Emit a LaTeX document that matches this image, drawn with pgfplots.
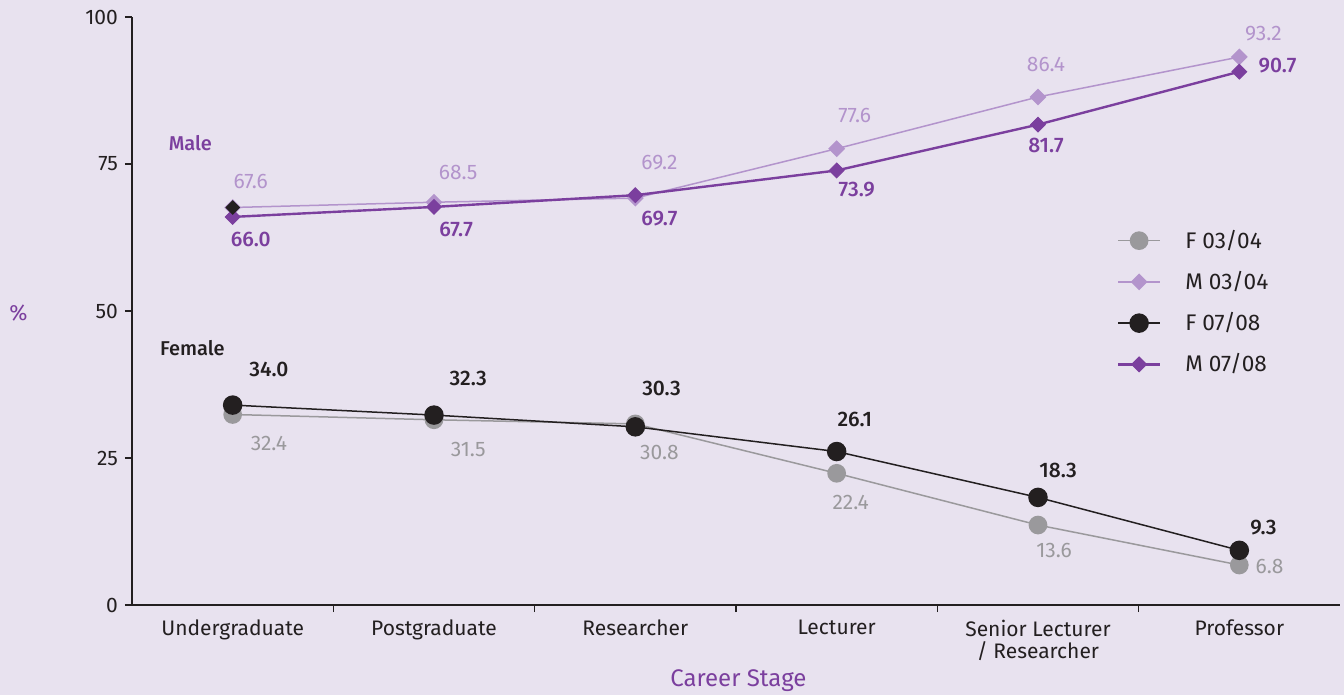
\documentclass[border=0pt]{standalone}
\usepackage{fontspec}
\setmainfont{Fira Sans}
\newfontfamily\firamed{Fira Sans Medium}
\usepackage{pgfplots}
\pgfplotsset{compat=1.18}
\definecolor{bg}{HTML}{E8E2EF}
\definecolor{axc}{HTML}{231F20}
\definecolor{fgray}{HTML}{9A999C}
\definecolor{lpurp}{HTML}{B394CC}
\definecolor{dpurp}{HTML}{7B3F9E}
\definecolor{fblack}{HTML}{231F20}
\begin{document}
\begin{tikzpicture}
\fill[bg] (-66pt,-45pt) rectangle (606pt,302.5pt);
\begin{axis}[
  at={(0,0)}, anchor=south west,
  scale only axis, width=604pt, height=294pt,
  xmin=-0.5, xmax=5.5, ymin=0, ymax=100,
  axis lines*=left,
  axis line style={draw=axc, line width=0.75pt},
  tick style={draw=axc, line width=0.75pt},
  tick align=outside, major tick length=3.5pt,
  ytick={0,25,50,75,100},
  xtick={0.5,1.5,2.5,3.5,4.5},
  xticklabels={},
  extra x ticks={0,1,2,3,4,5},
  extra x tick labels={Undergraduate,Postgraduate,Researcher,Lecturer,{Senior Lecturer\\/ Researcher},Professor},
  extra x tick style={major tick length=0pt, xticklabel style={align=center, yshift=-4pt}},
  ticklabel style={font=\fontsize{10.5}{11}\selectfont, text=axc},
  /pgf/number format/assume math mode=true,
  legend style={draw=none, fill=none, at={(0.81,0.652)}, anchor=north west,
    font=\fontsize{11.3}{12}\selectfont, text=axc, row sep=6.0pt,
    /tikz/every odd column/.append style={column sep=10pt}},
  legend cell align=left,
  legend image code/.code={\draw[mark repeat=2,mark phase=2] plot coordinates {(0cm,0cm)(0.37cm,0cm)(0.74cm,0cm)};},
  clip=false,
]
% F 03/04
\addplot[color=fgray, line width=0.75pt, mark=*, mark size=4.3pt, mark options={fill=fgray, draw=fgray}]
  coordinates {(0,32.4) (1,31.5) (2,30.8) (3,22.4) (4,13.6) (5,6.8)};
\addlegendentry{F 03/04}
% M 03/04
\addplot[color=lpurp, line width=0.75pt, mark=square*, mark size=2.6pt, mark options={rotate=45, fill=lpurp, draw=lpurp}]
  coordinates {(0,67.6) (1,68.5) (2,69.2) (3,77.6) (4,86.4) (5,93.2)};
\addlegendentry{M 03/04}
% F 07/08
\addplot[color=fblack, line width=0.75pt, mark=*, mark size=4.5pt, mark options={fill=fblack, draw=fblack}]
  coordinates {(0,34.0) (1,32.3) (2,30.3) (3,26.1) (4,18.3) (5,9.3)};
\addlegendentry{F 07/08}
% M 07/08
\addplot[color=dpurp, line width=1.2pt, mark=square*, mark size=2.6pt, mark options={rotate=45, fill=dpurp, draw=dpurp, line width=0.5pt}]
  coordinates {(0,66.0) (1,67.7) (2,69.7) (3,73.9) (4,81.7) (5,90.7)};
\addlegendentry{M 07/08}
% black first marker of M 03/04
\addplot[forget plot, draw=none, mark=square*, mark size=2.4pt, mark options={rotate=45, fill=fblack, draw=fblack}]
  coordinates {(0,67.6)};

\begin{scope}[every node/.style={font=\fontsize{10.5}{12}\selectfont}]
% M 03/04 labels
\node[text=lpurp] at (axis cs:0.09,72.1) {67.6};
\node[text=lpurp] at (axis cs:1.12,73.5) {68.5};
\node[text=lpurp] at (axis cs:2.12,75.3) {69.2};
\node[text=lpurp] at (axis cs:3.09,83.3) {77.6};
\node[text=lpurp] at (axis cs:4.04,92.0) {86.4};
\node[text=lpurp] at (axis cs:5.12,97.1) {93.2};
% M 07/08 labels
\node[text=dpurp, font=\firamed\fontsize{10.5}{12}\selectfont] at (axis cs:0.09,62.1) {66.0};
\node[text=dpurp, font=\firamed\fontsize{10.5}{12}\selectfont] at (axis cs:1.11,63.8) {67.7};
\node[text=dpurp, font=\firamed\fontsize{10.5}{12}\selectfont] at (axis cs:2.12,65.8) {69.7};
\node[text=dpurp, font=\firamed\fontsize{10.5}{12}\selectfont] at (axis cs:3.10,70.6) {73.9};
\node[text=dpurp, font=\firamed\fontsize{10.5}{12}\selectfont] at (axis cs:4.04,78.1) {81.7};
\node[text=dpurp, font=\firamed\fontsize{10.5}{12}\selectfont] at (axis cs:5.19,91.7) {90.7};
% F 07/08 labels
\node[text=fblack, font=\firamed\fontsize{10.5}{12}\selectfont] at (axis cs:0.18,40.1) {34.0};
\node[text=fblack, font=\firamed\fontsize{10.5}{12}\selectfont] at (axis cs:1.17,38.6) {32.3};
\node[text=fblack, font=\firamed\fontsize{10.5}{12}\selectfont] at (axis cs:2.13,36.9) {30.3};
\node[text=fblack, font=\firamed\fontsize{10.5}{12}\selectfont] at (axis cs:3.09,31.5) {26.1};
\node[text=fblack, font=\firamed\fontsize{10.5}{12}\selectfont] at (axis cs:4.10,22.8) {18.3};
\node[text=fblack, font=\firamed\fontsize{10.5}{12}\selectfont] at (axis cs:5.12,13.1) {9.3};
% F 03/04 labels
\node[text=fgray] at (axis cs:0.18,27.4) {32.4};
\node[text=fgray] at (axis cs:1.17,26.5) {31.5};
\node[text=fgray] at (axis cs:2.12,25.9) {30.8};
\node[text=fgray] at (axis cs:3.07,17.5) {22.4};
\node[text=fgray] at (axis cs:4.08,9.2) {13.6};
\node[text=fgray] at (axis cs:5.15,6.6) {6.8};
% group labels
\node[text=dpurp, font=\firamed\fontsize{10}{12}\selectfont] at (axis cs:-0.21,78.6) {Male};
\node[text=fblack, font=\firamed\fontsize{10}{12}\selectfont] at (axis cs:-0.20,43.7) {Female};
\end{scope}
\node[text=dpurp, font=\fontsize{11}{12}\selectfont] at (rel axis cs:-0.094,0.497) {\%};
\node[text=dpurp, font=\fontsize{12}{14}\selectfont] at (rel axis cs:0.502,-0.129) {Career Stage};
\end{axis}
\end{tikzpicture}
\end{document}
